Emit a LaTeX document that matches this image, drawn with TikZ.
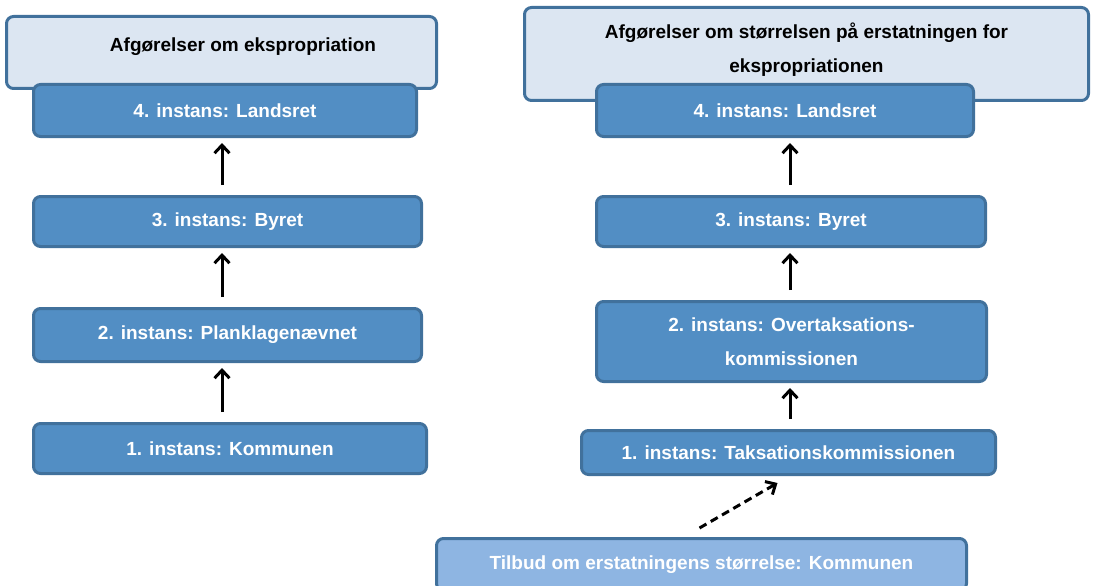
\documentclass[tikz,border=0pt]{standalone}
\usepackage{fontspec}
\setmainfont{Liberation Sans}
\usetikzlibrary{arrows.meta}
\definecolor{boxblue}{RGB}{82,142,196}
\definecolor{boxedge}{RGB}{65,113,156}
\definecolor{hdrfill}{RGB}{220,230,242}
\definecolor{offerfill}{RGB}{142,181,226}
\begin{document}
\begin{tikzpicture}[x=1pt, y=-1pt, >={Straight Barb[length=8pt,width=15pt]},
    box/.style={draw=boxedge, line width=3pt, rounded corners=7pt, fill=boxblue, text=white,
        font=\fontsize{19}{34}\selectfont\bfseries, align=center, inner sep=0pt},
    hdr/.style={box, fill=hdrfill, text=black},
    uparrow/.style={->, line width=3pt, shorten <=10pt, shorten >=5pt}]
\clip (0,0) rectangle (1096,586);
\coordinate (axL) at (222,0);
\coordinate (axR) at (790,0);

\node[hdr, minimum width=430pt, minimum height=72pt] (hdrL) at (221.5,52.5) {};
\node[font=\fontsize{19}{34}\selectfont\bfseries] (hdrLtext) at (243,47) {Afgørelser om ekspropriation};
\node[box, minimum width=383pt, minimum height=52pt] (landsretL) at (225,110.5) {4. instans: Landsret};
\node[box, minimum width=388pt, minimum height=50pt] (byretL) at (227.5,221.5) {3. instans: Byret};
\node[box, minimum width=388pt, minimum height=53pt] (planklage) at (227.5,335) {2. instans: Planklagenævnet};
\node[box, minimum width=393pt, minimum height=50pt] (kommune) at (230,448.5) {1. instans: Kommunen};

\node[hdr, minimum width=564pt, minimum height=93pt, text depth=12pt] (hdrR) at (806.5,54) {Afgørelser om størrelsen på erstatningen for\\ekspropriationen};
\node[box, minimum width=377pt, minimum height=52pt] (landsretR) at (785,110.5) {4. instans: Landsret};
\node[box, minimum width=389pt, minimum height=50pt] (byretR) at (791,221.5) {3. instans: Byret};
\node[box, minimum width=390pt, minimum height=80pt] (overtaks) at (791.5,341.5) {2. instans: Overtaksations-\\kommissionen};
\node[box, minimum width=414pt, minimum height=44pt] (taksation) at (788.5,452.5) {1. instans: Taksationskommissionen};
\node[box, fill=offerfill, minimum width=530pt, minimum height=52pt] (tilbud) at (701.5,564.5) {Tilbud om erstatningens størrelse: Kommunen};

\foreach \a/\b in {byretL/landsretL, planklage/byretL, kommune/planklage}
{
    \draw[uparrow] (\a.north -| axL) -- (\b.south -| axL);
}
\foreach \a/\b in {byretR/landsretR, overtaks/byretR, taksation/overtaks}
{
    \draw[uparrow] (\a.north -| axR) -- (\b.south -| axR);
}
\draw[->, line width=3pt, dash pattern=on 8pt off 5pt] ([xshift=-2pt,yshift=9pt]tilbud.north) -- ([xshift=-11pt,yshift=-7pt]taksation.south);
\end{tikzpicture}
\end{document}
